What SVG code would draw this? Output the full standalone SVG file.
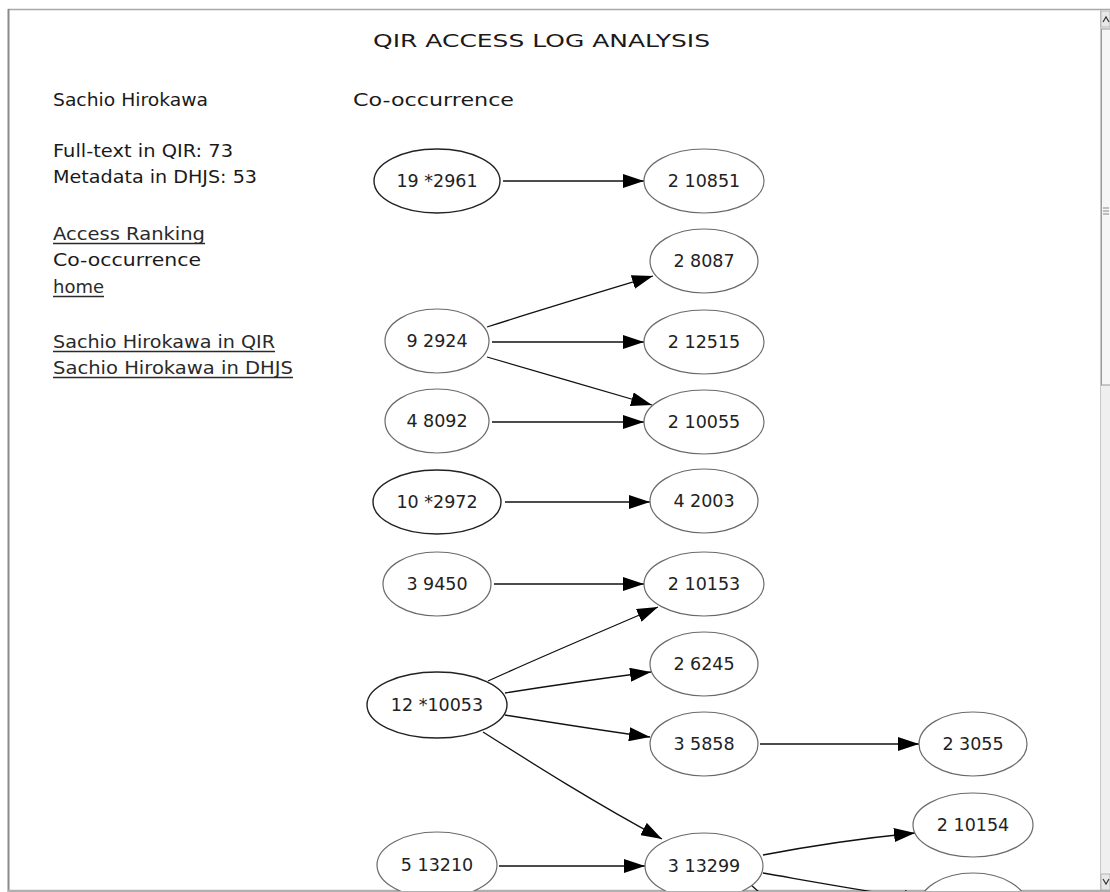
<svg xmlns="http://www.w3.org/2000/svg" width="1110" height="892" viewBox="0 0 1110 892">
<style>
.pg{font-family:"DejaVu Sans",sans-serif;font-size:17px;fill:#1a1a1a}
.lnk{fill:#2a2a2a}
.ul{stroke:#2a2a2a;stroke-width:1.3}
.nd ellipse{fill:#fff;stroke:#6a6a6a;stroke-width:1.2}
.nd.st ellipse{stroke:#222;stroke-width:1.4}
.nd text{font-family:"DejaVu Sans",sans-serif;font-size:17.5px;fill:#222;text-anchor:middle}
.ed path{fill:none;stroke:#111;stroke-width:1.3}
</style>
<defs>
<marker id="ah" markerWidth="21" markerHeight="14" refX="21" refY="7" orient="auto" markerUnits="userSpaceOnUse">
<path d="M0,0 L21,7 L0,14 z" fill="#000"/>
</marker>
</defs>
<rect x="0" y="0" width="1110" height="892" fill="#fff"/>
<!-- window frame -->
<line x1="8" y1="9.5" x2="1110" y2="9.5" stroke="#a8a8a8" stroke-width="1.5"/>
<line x1="8.5" y1="9" x2="8.5" y2="892" stroke="#8a8a8a" stroke-width="2"/>
<line x1="8" y1="890.5" x2="1110" y2="890.5" stroke="#b0b0b0" stroke-width="1.5"/>
<!-- scrollbar -->
<g id="scrollbar">
<rect x="1100" y="10" width="10" height="880" fill="#efefef"/>
<line x1="1100.5" y1="10" x2="1100.5" y2="890" stroke="#c8c8c8"/>
<rect x="1101" y="11" width="9" height="16" fill="#e8e8e8" stroke="#aaa" stroke-width="0.8"/>
<path d="M1103,22 L1106,17 L1109,22" fill="none" stroke="#333" stroke-width="1.2"/>
<rect x="1101.5" y="29" width="9" height="356" fill="#f6f6f6" stroke="#999" stroke-width="1"/>
<line x1="1103" y1="208" x2="1109" y2="208" stroke="#888"/>
<line x1="1103" y1="211" x2="1109" y2="211" stroke="#888"/>
<line x1="1103" y1="214" x2="1109" y2="214" stroke="#888"/>
<rect x="1101" y="874" width="9" height="16" fill="#e8e8e8" stroke="#aaa" stroke-width="0.8"/>
<path d="M1103,879 L1106,884 L1109,879" fill="none" stroke="#333" stroke-width="1.2"/>
</g>
<!-- page text -->
<text class="pg" x="373" y="47" textLength="337" lengthAdjust="spacingAndGlyphs">QIR ACCESS LOG ANALYSIS</text>
<text class="pg" x="53" y="106" textLength="155" lengthAdjust="spacingAndGlyphs">Sachio Hirokawa</text>
<text class="pg" x="353" y="106" textLength="161" lengthAdjust="spacingAndGlyphs">Co-occurrence</text>
<text class="pg" x="53" y="157" textLength="180" lengthAdjust="spacingAndGlyphs">Full-text in QIR: 73</text>
<text class="pg" x="53" y="183" textLength="204" lengthAdjust="spacingAndGlyphs">Metadata in DHJS: 53</text>
<text class="pg lnk" x="53" y="240" textLength="152" lengthAdjust="spacingAndGlyphs">Access Ranking</text>
<line class="ul" x1="53" y1="243.5" x2="205" y2="243.5"/>
<text class="pg" x="53" y="266" textLength="148" lengthAdjust="spacingAndGlyphs">Co-occurrence</text>
<text class="pg lnk" x="53" y="293" textLength="51" lengthAdjust="spacingAndGlyphs">home</text>
<line class="ul" x1="53" y1="296.5" x2="104" y2="296.5"/>
<text class="pg lnk" x="53" y="348" textLength="222" lengthAdjust="spacingAndGlyphs">Sachio Hirokawa in QIR</text>
<line class="ul" x1="53" y1="351.5" x2="275" y2="351.5"/>
<text class="pg lnk" x="53" y="374" textLength="240" lengthAdjust="spacingAndGlyphs">Sachio Hirokawa in DHJS</text>
<line class="ul" x1="53" y1="377.5" x2="293" y2="377.5"/>
<!-- connectors -->
<g id="edges" class="ed">
<path d="M503,181 L644,181" marker-end="url(#ah)"/>
<path d="M487,327 C540,310 600,292 653,276" marker-end="url(#ah)"/>
<path d="M492,342 L644,342" marker-end="url(#ah)"/>
<path d="M487,357 C540,372 600,390 652,405" marker-end="url(#ah)"/>
<path d="M492,422 L644,422" marker-end="url(#ah)"/>
<path d="M505,502 L650,502" marker-end="url(#ah)"/>
<path d="M494,584 L644,584" marker-end="url(#ah)"/>
<path d="M488,681 C545,655 605,630 658,607" marker-end="url(#ah)"/>
<path d="M505,693 C555,685 605,678 651,672" marker-end="url(#ah)"/>
<path d="M505,715 C555,723 605,731 650,737" marker-end="url(#ah)"/>
<path d="M483,732 C535,765 595,803 662,839" marker-end="url(#ah)"/>
<path d="M499,866 L645,866" marker-end="url(#ah)"/>
<path d="M760,744 L919,744" marker-end="url(#ah)"/>
<path d="M763,855 C810,846 865,838 915,833" marker-end="url(#ah)"/>
<path d="M763,873 C815,882 870,892 925,900" marker-end="url(#ah)"/>
<path d="M750,884 L790,920"/>
</g>
<!-- nodes -->
<g id="n-19-2961" class="nd st"><ellipse cx="437" cy="181" rx="63" ry="32"/><text x="437" y="187">19 *2961</text></g>
<g id="n-2-10851" class="nd"><ellipse cx="704" cy="181" rx="60" ry="32"/><text x="704" y="187">2 10851</text></g>
<g id="n-2-8087" class="nd"><ellipse cx="704" cy="261" rx="54" ry="32"/><text x="704" y="267">2 8087</text></g>
<g id="n-9-2924" class="nd"><ellipse cx="437" cy="341" rx="52" ry="32"/><text x="437" y="347">9 2924</text></g>
<g id="n-2-12515" class="nd"><ellipse cx="704" cy="342" rx="60" ry="32"/><text x="704" y="348">2 12515</text></g>
<g id="n-4-8092" class="nd"><ellipse cx="437" cy="421" rx="52" ry="32"/><text x="437" y="427">4 8092</text></g>
<g id="n-2-10055" class="nd"><ellipse cx="704" cy="422" rx="60" ry="32"/><text x="704" y="428">2 10055</text></g>
<g id="n-10-2972" class="nd st"><ellipse cx="437" cy="502" rx="64" ry="32"/><text x="437" y="508">10 *2972</text></g>
<g id="n-4-2003" class="nd"><ellipse cx="704" cy="501" rx="54" ry="32"/><text x="704" y="507">4 2003</text></g>
<g id="n-3-9450" class="nd"><ellipse cx="437" cy="584" rx="54" ry="32"/><text x="437" y="590">3 9450</text></g>
<g id="n-2-10153" class="nd"><ellipse cx="704" cy="584" rx="60" ry="32"/><text x="704" y="590">2 10153</text></g>
<g id="n-2-6245" class="nd"><ellipse cx="704" cy="664" rx="54" ry="32"/><text x="704" y="670">2 6245</text></g>
<g id="n-12-10053" class="nd st"><ellipse cx="437" cy="705" rx="70" ry="33"/><text x="437" y="711">12 *10053</text></g>
<g id="n-3-5858" class="nd"><ellipse cx="704" cy="744" rx="54" ry="32"/><text x="704" y="750">3 5858</text></g>
<g id="n-2-3055" class="nd"><ellipse cx="973" cy="744" rx="54" ry="32"/><text x="973" y="750">2 3055</text></g>
<g id="n-2-10154" class="nd"><ellipse cx="973" cy="825" rx="60" ry="32"/><text x="973" y="831">2 10154</text></g>
<g id="n-3-13299" class="nd"><ellipse cx="704" cy="866" rx="59" ry="33"/><text x="704" y="872">3 13299</text></g>
<g id="n-5-13210" class="nd"><ellipse cx="437" cy="865" rx="60" ry="33"/><text x="437" y="871">5 13210</text></g>
<g id="n-clipped" class="nd"><ellipse cx="973" cy="906" rx="54" ry="33"/></g>
<!-- redraw bottom frame line over clipped content -->
<rect x="8" y="891" width="1102" height="1" fill="#b0b0b0"/>
</svg>
